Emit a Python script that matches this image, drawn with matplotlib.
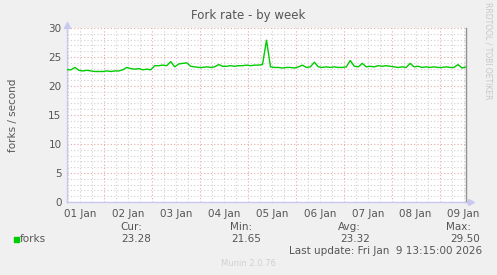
import matplotlib
matplotlib.use('Agg')
import matplotlib.pyplot as plt
import matplotlib.dates as mdates
from matplotlib.patches import Rectangle
from matplotlib.ticker import MultipleLocator, FuncFormatter, NullFormatter
import pandas as pd

# Fork rate samples, one every 2 hours from 01 Jan 05:15 to 09 Jan 13:15
start = '2026-01-01 05:15'
forks = [22.8, 22.8, 23.2, 22.7, 22.6, 22.7, 22.6, 22.5, 22.5, 22.5,
         22.6, 22.5, 22.6, 22.6, 22.8, 23.2, 23.0, 22.9, 23.0, 22.8,
         22.9, 22.8, 23.5, 23.5, 23.6, 23.5, 24.2, 23.3, 23.8, 23.9,
         24.0, 23.4, 23.3, 23.2, 23.2, 23.3, 23.2, 23.3, 23.7, 23.4,
         23.4, 23.5, 23.4, 23.5, 23.5, 23.6, 23.5, 23.6, 23.6, 23.7,
         27.9, 23.3, 23.2, 23.2, 23.1, 23.2, 23.2, 23.1, 23.3, 23.6,
         23.2, 23.3, 24.1, 23.3, 23.2, 23.3, 23.2, 23.3, 23.2, 23.2,
         23.3, 24.4, 23.4, 23.3, 23.9, 23.3, 23.4, 23.3, 23.5, 23.4,
         23.5, 23.4, 23.3, 23.2, 23.3, 23.2, 23.9, 23.3, 23.4, 23.2,
         23.3, 23.2, 23.3, 23.2, 23.2, 23.3, 23.2, 23.2, 23.7, 23.1,
         23.3]
times = pd.date_range(start, periods=len(forks), freq='2h')

stat_names = ['Cur:', 'Min:', 'Avg:', 'Max:']
stat_values = ['23.28', '21.65', '23.32', '29.50']
last_update = 'Last update: Fri Jan  9 13:15:00 2026'

txt = '#555555'
fig = plt.figure(figsize=(4.97, 2.75), dpi=100, facecolor='#f0f0f0')
ax = fig.add_axes([67 / 497, 1 - 202 / 275, 399 / 497, 174 / 275])
ax.set_facecolor('white')

ax.plot(times, forks, color='#00cc00', linewidth=1.0, zorder=5)

ax.set_xlim(times[0], times[-1])
ax.set_ylim(0, 30)

# grid: red dotted major, grey dotted minor
ax.xaxis.set_major_locator(mdates.DayLocator())
ax.xaxis.set_major_formatter(NullFormatter())
ax.xaxis.set_minor_locator(mdates.HourLocator(byhour=[6, 12, 18]))
ax.xaxis.set_minor_formatter(FuncFormatter(
    lambda v, p: mdates.num2date(v).strftime('%d %b') if mdates.num2date(v).hour == 12 else ''))
ax.yaxis.set_major_locator(MultipleLocator(5))
ax.yaxis.set_minor_locator(MultipleLocator(1))

ax.grid(which='minor', color='#d0d0d0', linestyle=(0, (1, 2)), linewidth=0.8)
ax.grid(which='major', color='#e8a8a8', linestyle=(0, (1, 2)), linewidth=0.8)
ax.set_axisbelow(True)

ax.tick_params(which='both', length=0, colors=txt, labelsize=7.5)
ax.tick_params(axis='x', which='minor', pad=5)
ax.tick_params(axis='y', pad=4)

ax.spines['top'].set_visible(False)
ax.spines['left'].set_color('#c8c8f0')
ax.spines['bottom'].set_color('#c8c8f0')
ax.spines['right'].set_color('#909090')
for s in ['left', 'bottom', 'right']:
    ax.spines[s].set_linewidth(1.0)

# axis arrows
ax.plot([0], [1.02], marker='^', color='#c8c8f0', markersize=4,
        transform=ax.transAxes, clip_on=False)
ax.plot([1.0, 1.012], [0, 0], color='#c8c8f0', linewidth=1,
        transform=ax.transAxes, clip_on=False)
ax.plot([1.012], [0], marker='>', color='#c8c8f0', markersize=4,
        transform=ax.transAxes, clip_on=False)

fig.text(248 / 497, 1 - 16 / 275, 'Fork rate - by week', ha='center', va='center',
         fontsize=8.5, color=txt)
fig.text(13 / 497, 1 - 115 / 275, 'forks / second', rotation=90, ha='center',
         va='center', fontsize=7.5, color=txt)
fig.text(488 / 497, 1 - 51 / 275, 'RRDTOOL / TOBI OETIKER', rotation=270,
         ha='center', va='center', fontsize=5.5, color='#c8c8c8')

# legend
fig.patches.append(Rectangle((14 / 497, 1 - 242 / 275), 5 / 497, 5 / 275,
                             transform=fig.transFigure, color='#00cc00'))
fig.text(20 / 497, 1 - 239 / 275, 'forks', color=txt, ha='left', va='center',
         fontsize=7.5)
stat_x = [151, 261, 370, 480]
for x, name, val in zip(stat_x, stat_names, stat_values):
    fig.text((x - 9) / 497, 1 - 227 / 275, name, color=txt, ha='right',
             va='center', fontsize=7.5)
    fig.text(x / 497, 1 - 239 / 275, val, color=txt, ha='right', va='center',
             fontsize=7.5)
fig.text(482 / 497, 1 - 251 / 275, last_update, color=txt, ha='right',
         va='center', fontsize=7.5)
fig.text(248 / 497, 1 - 263 / 275, 'Munin 2.0.76', color='#d0d0d0',
         ha='center', va='center', fontsize=6)

fig.savefig('out.png', dpi=100, facecolor=fig.get_facecolor())
